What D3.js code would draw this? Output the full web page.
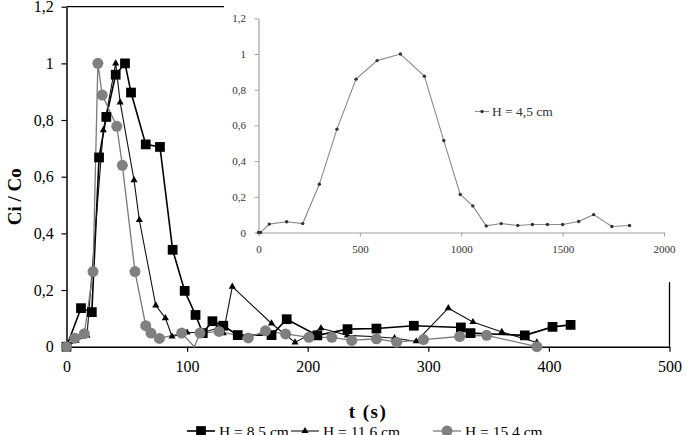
<!DOCTYPE html>
<html><head><meta charset="utf-8">
<script src="https://cdn.jsdelivr.net/npm/d3@7"></script>
<style>html,body{margin:0;padding:0;background:#fff;overflow:hidden}
svg text{font-family:"Liberation Serif","Times New Roman",Times,serif}</style>
</head><body>
<svg id="c" width="692" height="435"></svg>
<script>
// ---- data ----
const sqT = [0, 12, 21, 27, 33, 40.8, 48.5, 53.5, 65.7, 77.5, 88, 98, 107, 113, 121, 130, 142, 170, 182.6, 208, 233, 257, 288, 327, 335, 380, 403, 418];
const sqV = [0, 0.136, 0.122, 0.668, 0.811, 0.96, 1.0, 0.897, 0.714, 0.705, 0.342, 0.197, 0.112, 0.048, 0.09, 0.074, 0.041, 0.041, 0.097, 0.04, 0.062, 0.064, 0.074, 0.068, 0.048, 0.04, 0.07, 0.077];
const triT = [0, 8, 17, 30.5, 40.8, 44.5, 56, 60.4, 74, 82, 87.5, 100, 113, 125, 130, 137.5, 170, 189.5, 211, 233, 257, 272, 290, 316.6, 337, 361, 390];
const triV = [0, 0.02, 0.04, 0.764, 1.0, 0.862, 0.588, 0.447, 0.146, 0.101, 0.036, 0.05, 0.05, 0.065, 0.048, 0.212, 0.082, 0.015, 0.065, 0.04, 0.035, 0.03, 0.019, 0.136, 0.087, 0.052, 0.015];
const cirT = [0, 7, 14.8, 22, 26, 29.6, 41.7, 46.3, 56.8, 65.7, 70, 77, 95.5, 106, 110.7, 126.5, 150.7, 165, 181.7, 201, 220, 236.5, 257, 273.8, 296, 326, 348.4, 390];
const cirV = [0, 0.03, 0.046, 0.265, 1.0, 0.888, 0.778, 0.64, 0.265, 0.074, 0.048, 0.029, 0.048, 0, 0.048, 0.054, 0.031, 0.056, 0.045, 0.033, 0.033, 0.022, 0.028, 0.016, 0.025, 0.036, 0.04, 0];
const inT = [0, 10, 53, 139, 218, 300, 387, 481, 585, 700, 818, 914, 995, 1057, 1123, 1197, 1279, 1351, 1425, 1500, 1579, 1653, 1743, 1830];
const inV = [0, 0, 0.047, 0.06, 0.05, 0.27, 0.579, 0.859, 0.963, 1.0, 0.876, 0.515, 0.213, 0.149, 0.037, 0.05, 0.039, 0.045, 0.045, 0.045, 0.062, 0.10, 0.034, 0.039];
const seriesNames = ["H = 8,5 cm", "H = 11,6 cm", "H = 15,4 cm"];
const insetName = "H = 4,5 cm";
const yTicks = [0, 0.2, 0.4, 0.6, 0.8, 1.0, 1.2];
const xTicks = [0, 100, 200, 300, 400, 500];
const inXTicks = [0, 500, 1000, 1500, 2000];
const xLabel = "t (s)", yLabel = "Ci / Co";

// ---- drawing ----
const svg = d3.select("#c");
const loc = d3.formatLocale({decimal: ",", thousands: ".", grouping: [3], currency: ["", ""]});
const fmt = loc.format(".1~f");

const x = d3.scaleLinear().domain([0, 500]).range([66.5, 669.5]);
const y = d3.scaleLinear().domain([0, 1.2]).range([346.7, 6.7]);

// borders (top & right of plot area)
svg.append("line").attr("x1", x(0)).attr("x2", 224).attr("y1", y(1.2)).attr("y2", y(1.2))
  .attr("stroke", "#000").attr("stroke-width", 1.3);
svg.append("line").attr("x1", x(500)).attr("x2", x(500)).attr("y1", y(0)).attr("y2", 282)
  .attr("stroke", "#000").attr("stroke-width", 1.3);

const gx = svg.append("g").attr("transform", `translate(0,${y(0)})`)
  .call(d3.axisBottom(x).tickValues(xTicks).tickSize(5).tickSizeOuter(0).tickFormat(d3.format("d")));
const gy = svg.append("g").attr("transform", `translate(${x(0)},0)`)
  .call(d3.axisLeft(y).tickValues(yTicks).tickSize(5).tickSizeOuter(0).tickFormat(fmt));
[gx, gy].forEach(g => {
  g.attr("font-family", null);
  g.select(".domain").attr("stroke", "#000").attr("stroke-width", 1.5);
  g.selectAll(".tick line").attr("stroke", "#000").attr("stroke-width", 1.2);
  g.selectAll("text").attr("font-size", 16).attr("fill", "#000");
});
gx.selectAll("text").attr("dy", "1.1em");
gy.selectAll("text").attr("dx", "-0.3em");

const line = d3.line().x(d => x(d[0])).y(d => y(d[1]));
const zip = (a, b) => a.map((t, i) => [t, b[i]]);
const sq = zip(sqT, sqV), tr = zip(triT, triV), ci = zip(cirT, cirV);

svg.append("path").datum(sq).attr("d", line).attr("fill", "none").attr("stroke", "#000").attr("stroke-width", 1.6);
svg.append("path").datum(tr).attr("d", line).attr("fill", "none").attr("stroke", "#111").attr("stroke-width", 1.1);
svg.append("path").datum(ci).attr("d", line).attr("fill", "none").attr("stroke", "#7a7a7a").attr("stroke-width", 1.3);

const sym = (type, size) => d3.symbol().type(type).size(size)();
svg.selectAll(".sq").data(sq).join("path").attr("class", "sq")
  .attr("transform", d => `translate(${x(d[0])},${y(d[1])})`).attr("d", sym(d3.symbolSquare, 95)).attr("fill", "#000");
svg.selectAll(".tr").data(tr).join("path").attr("class", "tr")
  .attr("transform", d => `translate(${x(d[0])},${y(d[1])})`).attr("d", sym(d3.symbolTriangle, 22)).attr("fill", "#000");
svg.selectAll(".ci").data(ci.filter((d, i) => d[1] > 0 || i === 0 || i === ci.length - 1)).join("circle").attr("class", "ci")
  .attr("cx", d => x(d[0])).attr("cy", d => y(d[1])).attr("r", 5.5).attr("fill", "#808080");

// axis titles
svg.append("text").attr("x", (x(0) + x(500)) / 2).attr("y", 418).attr("text-anchor", "middle")
  .attr("font-weight", "bold").attr("font-size", 19).attr("letter-spacing", 1.5).text(xLabel);
svg.append("text").attr("transform", `translate(21,${(y(0) + y(1.2)) / 2 + 20}) rotate(-90)`).attr("text-anchor", "middle")
  .attr("font-weight", "bold").attr("font-size", 19).text(yLabel);

// legend
const legX = [187, 291, 433];
const legG = svg.append("g").attr("transform", "translate(0,431)");
const legStyles = [
  {stroke: "#000", w: 1.6, mk: g => g.append("path").attr("d", sym(d3.symbolSquare, 95)).attr("fill", "#000")},
  {stroke: "#111", w: 1.1, mk: g => g.append("path").attr("d", sym(d3.symbolTriangle, 22)).attr("fill", "#000")},
  {stroke: "#7a7a7a", w: 1.3, mk: g => g.append("circle").attr("r", 5.5).attr("fill", "#808080")}
];
seriesNames.forEach((n, i) => {
  const g = legG.append("g").attr("transform", `translate(${legX[i]},0)`);
  g.append("line").attr("x1", 0).attr("x2", 28).attr("stroke", legStyles[i].stroke).attr("stroke-width", legStyles[i].w);
  legStyles[i].mk(g.append("g").attr("transform", "translate(14,0)"));
  g.append("text").attr("x", 32).attr("y", 6).attr("font-size", 15.5).text(n);
});

// ---- inset ----
svg.append("rect").attr("x", 224).attr("y", 0).attr("width", 468).attr("height", 282).attr("fill", "#fff");
const ix = d3.scaleLinear().domain([0, 2000]).range([258.5, 664]);
const iy = d3.scaleLinear().domain([0, 1.2]).range([232.5, 18.3]);
const igx = svg.append("g").attr("transform", `translate(0,${iy(0)})`)
  .call(d3.axisBottom(ix).tickValues(inXTicks).tickSize(4).tickSizeOuter(0).tickFormat(d3.format("d")));
const igy = svg.append("g").attr("transform", `translate(${ix(0)},0)`)
  .call(d3.axisLeft(iy).tickValues(yTicks).tickSize(4).tickSizeOuter(0).tickFormat(fmt));
[igx, igy].forEach(g => {
  g.attr("font-family", null);
  g.select(".domain").attr("stroke", "#a0a0a0").attr("stroke-width", 1.2);
  g.selectAll(".tick line").attr("stroke", "#a0a0a0");
  g.selectAll("text").attr("font-size", 11).attr("fill", "#333");
});
igx.selectAll("text").attr("dy", "1.2em");
igy.selectAll("text").attr("dx", "-0.5em");
const iline = d3.line().x(d => ix(d[0])).y(d => iy(d[1]));
const ins = zip(inT, inV);
svg.append("path").datum(ins).attr("d", iline).attr("fill", "none").attr("stroke", "#8a8a8a").attr("stroke-width", 1.1);
svg.selectAll(".ip").data(ins).join("circle").attr("class", "ip")
  .attr("cx", d => ix(d[0])).attr("cy", d => iy(d[1])).attr("r", 1.7).attr("fill", "#333");
const il = svg.append("g").attr("transform", "translate(475,111.5)");
il.append("line").attr("x1", 0).attr("x2", 14).attr("stroke", "#8a8a8a").attr("stroke-width", 1.1);
il.append("circle").attr("cx", 7).attr("r", 1.7).attr("fill", "#333");
il.append("text").attr("x", 17).attr("y", 4.5).attr("font-size", 13.5).attr("fill", "#333").text(insetName);
</script>
</body></html>
